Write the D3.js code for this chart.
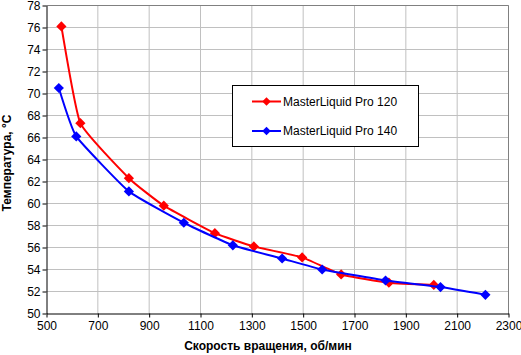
<!DOCTYPE html>
<html><head><meta charset="utf-8">
<script src="https://cdn.jsdelivr.net/npm/d3@7"></script>
<style>body{margin:0;background:#fff}svg{display:block;font-family:"Liberation Sans",Arial,sans-serif}</style>
</head><body><svg id="c" width="521" height="355"></svg>
<script>
const seriesNames = ["MasterLiquid Pro 120", "MasterLiquid Pro 140"];
const seriesColors = ["#ff0000", "#0000ff"];
const rpm120 = [558, 632, 821, 957, 1156, 1308, 1496, 1648, 1834, 2009];
const temp120 = [76.1, 67.3, 62.3, 59.8, 57.3, 56.1, 55.1, 53.55, 52.8, 52.6];
const rpm140 = [548, 616, 821, 1035, 1226, 1418, 1574, 1821, 2035, 2210];
const temp140 = [70.5, 66.1, 61.1, 58.25, 56.2, 55.0, 54.0, 53.0, 52.4, 51.7];
const xTicks = [500, 700, 900, 1100, 1300, 1500, 1700, 1900, 2100, 2300];
const yTicks = [50, 52, 54, 56, 58, 60, 62, 64, 66, 68, 70, 72, 74, 76, 78];
const xTitle = "Скорость вращения, об/мин";
const yTitle = "Температура, °C";

const svg = d3.select("#c");
const L = 46.5, R = 508.5, T = 5.5, B = 313.5;
const x = d3.scaleLinear().domain([500, 2300]).range([L, R]);
const y = d3.scaleLinear().domain([50, 78]).range([B, T]);

// grid
svg.append("g").selectAll("line").data(xTicks.slice(1)).join("line")
  .attr("x1", d => x(d)).attr("x2", d => x(d)).attr("y1", T).attr("y2", B)
  .attr("stroke", "#c0c0c0").attr("stroke-width", 1);
svg.append("g").selectAll("line").data(yTicks.slice(1)).join("line")
  .attr("x1", L).attr("x2", R).attr("y1", d => y(d)).attr("y2", d => y(d))
  .attr("stroke", "#c0c0c0").attr("stroke-width", 1);
svg.append("path").attr("d", `M${L},${T}H${R}V${B}`).attr("fill", "none").attr("stroke", "#808080");

// axes
const xAxis = svg.append("g").attr("transform", `translate(0,${B})`)
  .call(d3.axisBottom(x).tickValues(xTicks).tickSize(4).tickSizeOuter(0).tickFormat(d3.format("d")));
const yAxis = svg.append("g").attr("transform", `translate(${L},0)`)
  .call(d3.axisLeft(y).tickValues(yTicks).tickSize(4).tickSizeOuter(0).tickFormat(d3.format("d")));
[xAxis, yAxis].forEach(g => {
  g.select(".domain").attr("stroke", "#000");
  g.selectAll(".tick line").attr("stroke", "#000");
  g.selectAll("text").attr("fill", "#000").style("font-size", "12px").style("font-family", '"Liberation Sans",Arial,sans-serif');
});
xAxis.selectAll("text").attr("dy", "0.71em").attr("y", 8);
yAxis.selectAll("text").attr("x", -6);

// titles
svg.append("text").attr("x", 268).attr("y", 350).attr("text-anchor", "middle")
  .style("font-size", "12px").style("font-weight", "bold").text(xTitle);
svg.append("text").attr("transform", `translate(10.5,163) rotate(-90)`).attr("text-anchor", "middle")
  .style("font-size", "12px").style("font-weight", "bold").text(yTitle);

// series
const data = [
  rpm120.map((r, i) => [r, temp120[i]]),
  rpm140.map((r, i) => [r, temp140[i]])
];
const line = d3.line().x(d => x(d[0])).y(d => y(d[1])).curve(d3.curveCardinal.tension(0.6));
const diamond = d3.symbol().type(d3.symbolSquare).size(52);
data.forEach((pts, k) => {
  svg.append("path").attr("d", line(pts)).attr("fill", "none")
    .attr("stroke", seriesColors[k]).attr("stroke-width", 2);
  svg.append("g").selectAll("path").data(pts).join("path")
    .attr("transform", d => `translate(${x(d[0])},${y(d[1])}) rotate(45)`)
    .attr("d", diamond).attr("fill", seriesColors[k]);
});

// legend
const lg = svg.append("g");
lg.append("rect").attr("x", 232.5).attr("y", 85.5).attr("width", 186).attr("height", 61)
  .attr("fill", "#fff").attr("stroke", "#000");
seriesNames.forEach((n, k) => {
  const yy = 101.5 + k * 29.5;
  lg.append("line").attr("x1", 252).attr("x2", 281).attr("y1", yy).attr("y2", yy)
    .attr("stroke", seriesColors[k]).attr("stroke-width", 2);
  lg.append("path").attr("transform", `translate(266.5,${yy}) rotate(45)`)
    .attr("d", d3.symbol().type(d3.symbolSquare).size(36)).attr("fill", seriesColors[k]);
  lg.append("text").attr("x", 283).attr("y", yy).attr("dy", "0.35em").style("font-size", "12px").text(n);
});
</script></body></html>
